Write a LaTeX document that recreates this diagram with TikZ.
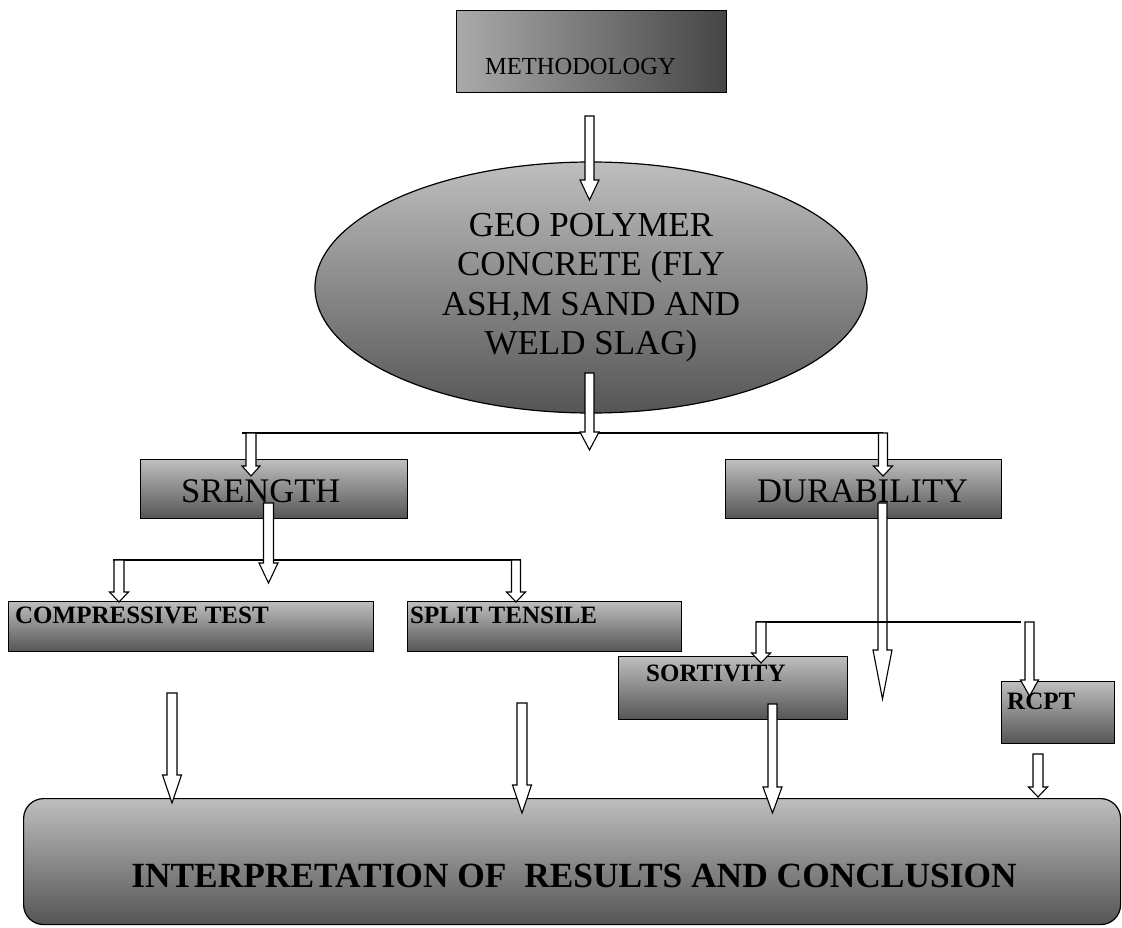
\documentclass[tikz,border=0pt]{standalone}
\usepackage{fontspec}
\setmainfont{Liberation Serif}
\usetikzlibrary{shapes.geometric}
\definecolor{gtop}{HTML}{BEBEBE}
\definecolor{gbot}{HTML}{555555}
\definecolor{gleft}{HTML}{AAAAAA}
\definecolor{gright}{HTML}{454545}
\tikzset{
  gbox/.style={rectangle, draw=black, line width=1.2pt, inner sep=0pt, anchor=north west, top color=gtop, bottom color=gbot},
  lbl/.style={anchor=base west, inner sep=0pt, text=black},
  conn/.style={draw=black, line width=1.2pt},
  barrow/.style={draw=black, line width=1.1pt, fill=white, line join=miter},
}
% block arrow: name, x centre, top, head base, tip, shaft half width, head half width
\newcommand\blockarr[7]{%
  \draw[barrow] (#2-#6,#3) -- (#2+#6,#3) -- (#2+#6,#4) -- (#2+#7,#4) -- (#2,#5) -- (#2-#7,#4) -- (#2-#6,#4) -- cycle;
  \coordinate (#1) at (#2,#5);
}
\begin{document}
\begin{tikzpicture}[x=1pt,y=-1pt]
\useasboundingbox (0,0) rectangle (1122,928);
% boxes
\node[rectangle, draw=black, line width=1.2pt, inner sep=0pt, anchor=north west, left color=gleft, right color=gright, minimum width=270pt, minimum height=82pt] (meth) at (456,10) {};
\node[ellipse, draw=black, line width=1.2pt, inner sep=0pt, top color=gtop, bottom color=gbot, minimum width=552pt, minimum height=251pt, align=center, font=\fontsize{35}{39.5}\selectfont] (geo) at (591,287.5) {GEO POLYMER\\CONCRETE (FLY\\ASH,M SAND AND\\WELD SLAG)};
\node[gbox, minimum width=267pt, minimum height=59pt] (srength) at (140,459) {};
\node[gbox, minimum width=276pt, minimum height=59pt] (durab) at (725,459) {};
\node[gbox, minimum width=365pt, minimum height=50pt] (comp) at (8,601) {};
\node[gbox, minimum width=274pt, minimum height=50pt] (split) at (407,601) {};
\node[gbox, minimum width=229pt, minimum height=63pt] (sort) at (618,656) {};
\node[gbox, minimum width=113pt, minimum height=62pt] (rcpt) at (1001,681) {};
\node[gbox, rounded corners=20pt, minimum width=1097pt, minimum height=126pt] (interp) at (23,798) {};
% texts
\node[lbl, font=\fontsize{24.5}{28}\selectfont] (methT) at (485,75) {METHODOLOGY};
\node[lbl, font=\fontsize{34.5}{40}\selectfont] (srengthT) at (181,502) {SRENGTH};
\node[lbl, font=\fontsize{34.5}{40}\selectfont] (durabT) at (757,502) {DURABILITY};
\node[lbl, font=\fontsize{25}{30}\selectfont\bfseries] (compT) at (15,623) {COMPRESSIVE TEST};
\node[lbl, font=\fontsize{25}{30}\selectfont\bfseries] (splitT) at (410,623) {SPLIT TENSILE};
\node[lbl, font=\fontsize{25}{30}\selectfont\bfseries] (sortT) at (646,681) {SORTIVITY};
\node[lbl, font=\fontsize{25}{30}\selectfont\bfseries] (rcptT) at (1007,709) {RCPT};
\node[anchor=base, inner sep=0pt, font=\fontsize{35.4}{40}\selectfont\bfseries] (interpT) at (574,887) {INTERPRETATION OF~~RESULTS AND CONCLUSION};
% branch lines
\coordinate (l1a) at (242,433); \coordinate (l1b) at (883,433);
\coordinate (l2a) at (113,560); \coordinate (l2b) at (521,560);
\coordinate (l3a) at (756,622); \coordinate (l3b) at (1021,622);
\draw[conn] (l1a) -- (l1b);
\draw[conn] (l2a) -- (l2b);
% block arrows
\blockarr{a1}{589.5}{116}{180}{200}{4.5}{9.5}
\blockarr{a2}{589.5}{373}{432}{450}{4.5}{9.5}
\blockarr{a3}{251}{433}{466}{476}{5}{9}
\blockarr{a4}{883}{433}{466}{476}{4.5}{9.5}
\blockarr{a5}{268.5}{503}{563}{583}{5}{9.5}
\blockarr{a6}{119}{560}{592}{602}{5}{9.5}
\blockarr{a7}{516}{560}{592}{602}{4.5}{9.5}
\blockarr{a8}{882.5}{503}{650}{699}{4.5}{9.5}
\draw[conn] (l3a) -- (l3b);
\blockarr{a9}{761}{622}{653}{663}{5}{9.5}
\blockarr{a10}{1029.5}{622}{680}{696}{4.5}{9}
\blockarr{a11}{172}{693}{775}{803}{5}{9.5}
\blockarr{a12}{522}{703}{785}{813}{5}{9.5}
\blockarr{a13}{772.5}{704}{787}{813}{4.5}{9.5}
\blockarr{a14}{1038}{754}{787}{797}{5}{9.5}
\end{tikzpicture}
\end{document}
